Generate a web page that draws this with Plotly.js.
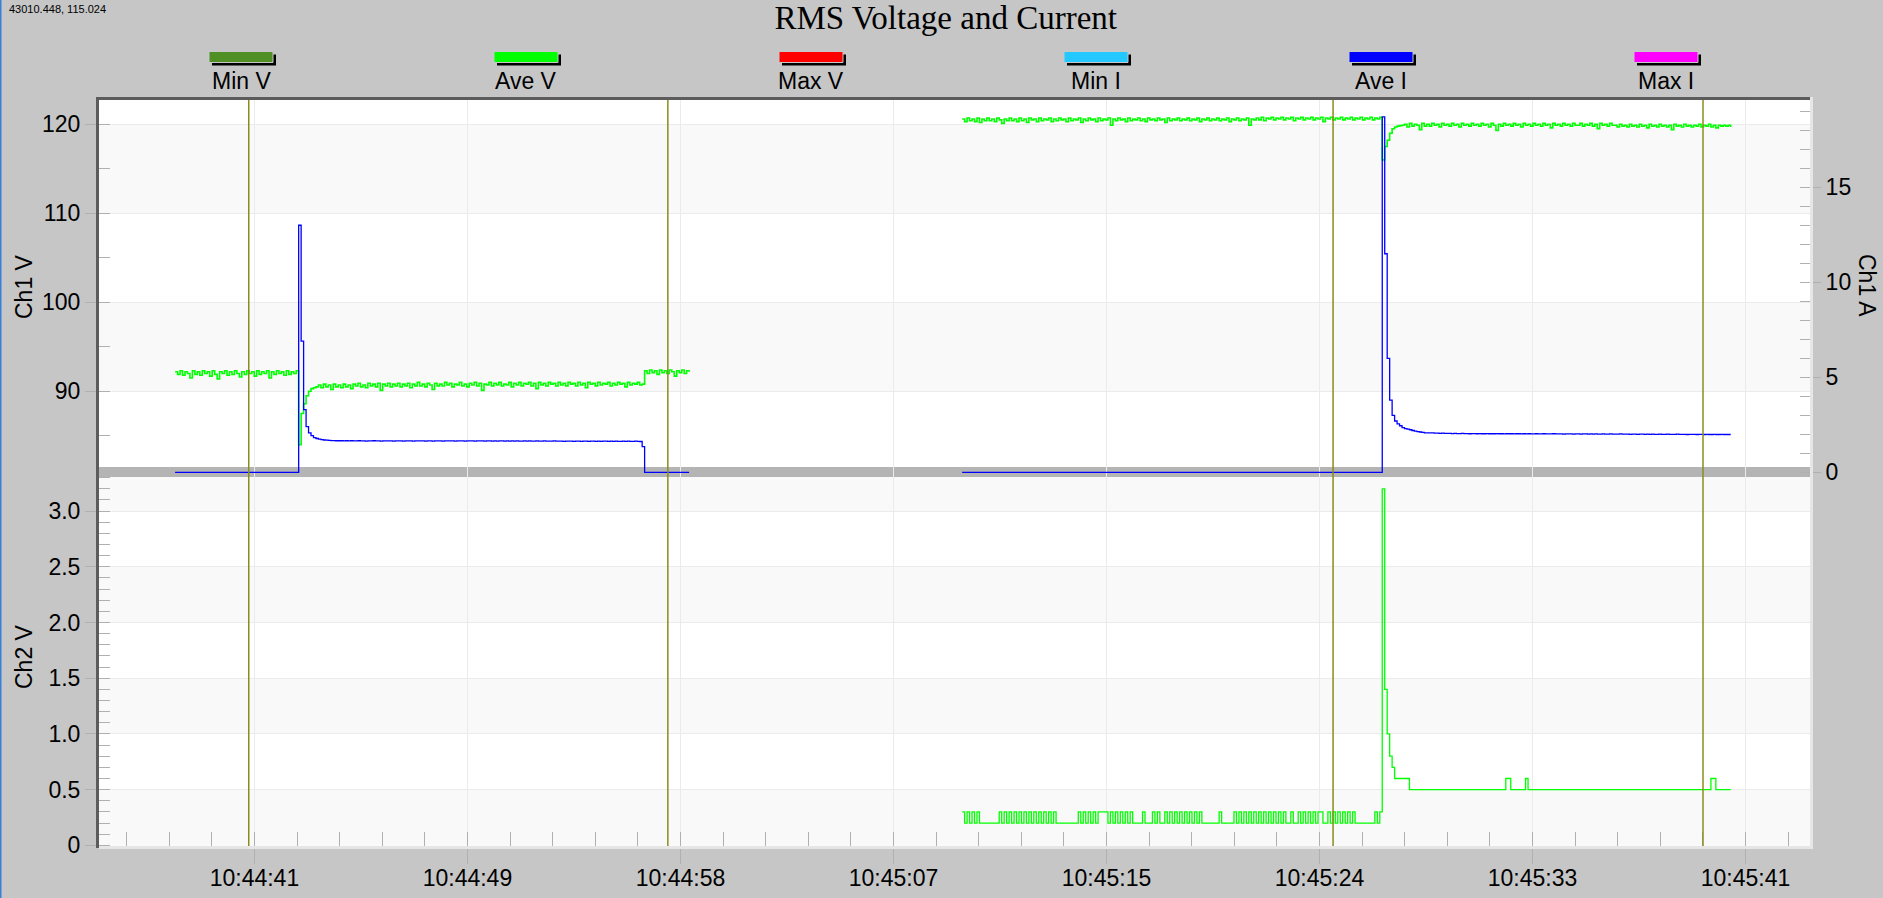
<!DOCTYPE html>
<html>
<head>
<meta charset="utf-8">
<script src="https://cdn.plot.ly/plotly-3.0.1.min.js"></script>
<style>html,body{margin:0;padding:0;background:#c6c6c6;}#chart{width:1883px;height:898px;}</style>
</head>
<body>
<div id="chart"></div>
<script>
// ---------------- DATA ----------------
const chartTitle = 'RMS Voltage and Current';
const cornerText = '43010.448, 115.024';
const legendNames = ['Min V', 'Ave V', 'Max V', 'Min I', 'Ave I', 'Max I'];
const legendColors = ['#4f8f23', '#00ff00', '#ff0000', '#22c8ff', '#0000ff', '#ff00ff'];

// time axis: seconds after 10:44:00
const timeTickStart = 41.33;
const timeTickStep = 8.62;
const timeTickLabels = ['10:44:41', '10:44:49', '10:44:58', '10:45:07', '10:45:15', '10:45:24', '10:45:33', '10:45:41'];
const timeRange = [35.04, 104.28];
const cursorTimes = [41.10, 58.06, 84.98, 99.95];

const ch1VTicks = [90, 100, 110, 120];
const ch1VRange = [80.37, 122.73];
const ch1ATicks = [0, 5, 10, 15];
const ch1ARange = [-0.247, 19.59];
const ch2VTicks = [0, 0.5, 1.0, 1.5, 2.0, 2.5, 3.0];
const ch2VTickLabels = ['0', '0.5', '1.0', '1.5', '2.0', '2.5', '3.0'];
const ch2VRange = [-0.006, 3.306];

const sampleStep = 0.1;      // s between samples
const seg1Start = 38.12;     // first recording
const seg2Start = 69.97;     // second recording

// Segment 1 — Ave V (Ch1 V)
const aveV1 = [
92.2,91.9,92.3,91.8,92.2,92.0,91.5,92.3,91.9,92.2,
91.8,92.3,92.0,92.2,91.7,92.3,91.9,91.4,92.2,92.0,
92.3,91.8,92.2,91.9,92.3,92.0,91.6,92.2,91.9,92.3,
92.0,92.2,91.7,92.3,91.9,92.2,92.0,92.3,91.5,92.2,
91.9,92.3,92.0,92.2,91.8,92.3,91.9,92.2,92.0,92.3,
84.0,87.5,88.6,89.5,90.0,90.3,90.4,90.5,
90.7,90.4,90.8,90.5,90.7,90.2,90.8,90.5,90.7,90.4,
90.8,90.5,90.7,90.3,90.8,90.6,90.9,90.5,90.7,90.4,
90.9,90.6,90.8,90.5,90.9,90.1,90.8,90.6,90.9,90.5,
90.8,90.6,90.9,90.5,90.8,90.6,90.9,90.4,90.8,90.6,
91.0,90.6,90.8,90.5,90.9,90.7,90.2,90.9,90.6,90.8,
90.6,91.0,90.7,90.9,90.5,90.8,90.7,91.0,90.6,90.8,
90.5,90.9,90.7,91.0,90.6,90.9,90.1,90.8,90.7,91.0,
90.6,90.9,90.7,91.0,90.6,90.8,90.7,91.0,90.5,90.9,
90.7,91.0,90.6,90.9,90.8,91.0,90.6,90.9,90.3,91.0,
90.7,90.9,90.6,91.0,90.8,90.9,90.6,91.0,90.7,90.9,
90.6,91.0,90.8,90.9,90.6,91.0,90.7,90.9,90.4,91.0,
90.8,90.9,90.6,91.0,90.7,90.9,90.8,91.0,90.6,90.9,
90.7,91.0,90.8,90.9,90.5,91.0,90.7,90.9,90.8,91.0,90.7,
90.8,
92.3,92.0,92.4,92.1,92.3,91.9,92.4,92.1,92.3,92.0,
92.4,92.2,91.7,92.3,92.1,92.4,92.0,92.3,92.2
];

// Segment 1 — Ave I (Ch1 A)
const aveI1 = [
0,0,0,0,0,0,0,0,0,0, 0,0,0,0,0,0,0,0,0,0, 0,0,0,0,0,0,0,0,0,0,
0,0,0,0,0,0,0,0,0,0, 0,0,0,0,0,0,0,0,0,0,
13.0,6.9,3.3,2.4,2.08,1.93,1.83,1.78,1.75,1.72,1.70,1.69,1.68,1.67,1.67,1.66,
1.66,1.66,1.65,1.66,1.65,1.66,1.65,1.65,1.66,1.65,
1.65,1.64,1.65,1.65,1.66,1.65,1.65,1.64,1.65,1.65,
1.65,1.65,1.64,1.65,1.65,1.65,1.64,1.65,1.65,1.65,
1.64,1.65,1.65,1.65,1.65,1.64,1.65,1.65,1.64,1.65,
1.65,1.65,1.64,1.65,1.65,1.65,1.65,1.64,1.65,1.65,
1.65,1.64,1.65,1.65,1.65,1.64,1.65,1.65,1.65,1.64,
1.65,1.65,1.64,1.65,1.64,1.65,1.65,1.64,1.65,1.64,
1.65,1.64,1.65,1.64,1.64,1.65,1.64,1.65,1.64,1.64,
1.65,1.64,1.64,1.65,1.64,1.64,1.64,1.65,1.64,1.64,
1.64,1.63,1.64,1.64,1.64,1.63,1.64,1.64,1.63,1.64,
1.64,1.63,1.64,1.64,1.63,1.64,1.63,1.64,1.64,1.63,
1.64,1.63,1.64,1.63,1.63,1.64,1.63,1.64,1.63,1.63,
1.64,1.63,1.62,
1.35,
0,0,0,0,0,0,0,0,0,0, 0,0,0,0,0,0,0,0,0
];

// Segment 2 — Ave V (Ch1 V)
const aveV2 = [
120.6,120.3,120.7,120.4,120.6,120.3,120.7,120.2,120.6,120.4,
120.7,120.4,120.6,120.3,120.7,120.5,120.1,120.6,120.4,120.7,
120.4,120.6,120.3,120.7,120.4,120.6,120.2,120.7,120.5,120.6,
120.3,120.7,120.4,120.6,120.5,120.7,120.3,120.6,120.4,120.7,
120.5,120.6,120.3,120.7,120.4,120.6,120.5,120.7,120.2,120.6,
120.4,120.7,120.5,120.6,120.3,120.7,120.4,120.6,120.5,120.7,
119.9,120.6,120.4,120.7,120.5,120.6,120.3,120.7,120.4,120.6,
120.5,120.7,120.4,120.6,120.3,120.7,120.5,120.6,120.4,120.7,
120.5,120.6,120.2,120.7,120.4,120.6,120.5,120.7,120.4,120.6,
120.5,120.7,120.4,120.6,120.5,120.7,120.3,120.6,120.5,120.7,
120.4,120.6,120.5,120.7,120.4,120.6,120.5,120.7,120.3,120.6,
120.5,120.7,120.4,120.6,120.5,120.7,119.9,120.6,120.5,120.7,
120.5,120.8,120.4,120.7,120.6,120.8,120.5,120.7,120.6,120.8,
120.5,120.7,120.6,120.8,120.4,120.7,120.6,120.8,120.5,120.7,
120.6,120.8,120.5,120.7,120.6,120.8,120.3,120.7,120.6,120.8,
120.5,120.7,120.6,120.8,120.5,120.7,120.6,120.8,120.5,120.7,
120.6,120.8,120.5,120.7,120.6,120.8,120.5,120.7,120.6,120.8,
116.0,117.5,118.2,119.0,119.5,119.7,119.8,119.85,119.9,
120.0,119.7,120.1,119.8,120.0,119.9,119.4,120.1,119.8,120.0,
119.8,120.1,119.9,120.0,119.7,120.1,119.9,120.0,119.8,120.1,
119.9,120.0,119.7,120.1,119.9,120.0,119.8,120.1,119.9,120.0,
119.8,120.1,119.9,120.0,119.7,120.1,119.9,119.3,120.0,119.8,
120.1,119.9,120.0,119.8,120.1,119.9,120.0,119.7,120.1,119.9,
120.0,119.8,120.1,119.9,120.0,119.8,120.1,119.9,120.0,119.6,
120.1,119.9,120.0,119.8,120.1,119.9,120.0,119.8,120.1,119.9,
119.9,120.1,119.8,120.0,119.9,120.1,119.8,120.0,119.5,120.1,
119.9,120.0,119.8,120.1,119.9,119.9,119.7,120.0,119.8,119.9,
119.7,120.0,119.8,119.9,119.7,120.0,119.8,119.9,119.6,120.0,
119.8,119.9,119.7,120.0,119.8,119.9,119.7,119.9,119.4,120.0,
119.8,119.9,119.7,120.0,119.8,119.9,119.7,119.9,119.8,120.0,
119.7,119.9,119.8,120.0,119.7,119.9,119.6,119.9,119.8,119.9,
119.8,119.9,119.7
];

// Segment 2 — Ave I (Ch1 A)
const aveI2 = [
0,0,0,0,0,0,0,0,0,0, 0,0,0,0,0,0,0,0,0,0, 0,0,0,0,0,0,0,0,0,0, 0,0,0,0,0,0,0,0,0,0,
0,0,0,0,0,0,0,0,0,0, 0,0,0,0,0,0,0,0,0,0, 0,0,0,0,0,0,0,0,0,0, 0,0,0,0,0,0,0,0,0,0,
0,0,0,0,0,0,0,0,0,0, 0,0,0,0,0,0,0,0,0,0, 0,0,0,0,0,0,0,0,0,0, 0,0,0,0,0,0,0,0,0,0,
0,0,0,0,0,0,0,0,0,0, 0,0,0,0,0,0,0,0,0,0, 0,0,0,0,0,0,0,0,0,0, 0,0,0,0,0,0,0,0,0,0,
0,0,0,0,0,0,0,0,0,0,
18.7,11.5,6.0,3.8,3.0,2.7,2.55,2.45,2.35,2.3,2.27,2.24,2.2,2.17,2.14,2.12,2.1,
2.08,2.08,2.07,2.07,2.06,2.06,2.05,2.06,2.05,2.05,
2.05,2.04,2.05,2.04,2.04,2.05,2.04,2.04,2.03,2.04,
2.04,2.03,2.04,2.03,2.03,2.04,2.03,2.03,2.03,2.04,
2.03,2.03,2.02,2.03,2.03,2.03,2.02,2.03,2.03,2.02,
2.03,2.02,2.03,2.02,2.02,2.03,2.02,2.02,2.03,2.02,
2.02,2.02,2.03,2.02,2.02,2.02,2.01,2.02,2.02,2.02,
2.01,2.02,2.02,2.01,2.02,2.02,2.01,2.02,2.01,2.02,
2.01,2.01,2.02,2.01,2.01,2.02,2.01,2.01,2.01,2.02,
2.01,2.01,2.01,2.00,2.01,2.01,2.00,2.01,2.01,2.00,
2.01,2.00,2.01,2.00,2.00,2.01,2.00,2.00,2.01,2.00,
2.00,2.00,2.01,2.00,2.00,2.00,1.99,2.00,2.00,2.00,
1.99,2.00,2.00,1.99,2.00,1.99,1.99,2.00,1.99,1.99,
2.00,1.99,1.99,1.99,1.99
];

// Segment 2 — Ch2 V
const ch2V2 = [
0.3,0.2,0.3,0.2,0.3,0.2,0.3,0.2,
0.2,0.2,0.2,0.2,0.2,0.2,0.2,
0.3,0.2,0.3,0.2,0.3,0.2,0.3,0.2,0.3,0.2,0.3,0.2,0.3,0.2,0.3,0.2,0.3,0.2,0.3,0.2,0.3,0.2,0.3,
0.2,0.2,0.2,0.2,0.2,0.2,0.2,0.2,0.2,
0.3,0.2,0.3,0.2,0.3,0.2,0.3,0.2,0.3,
0.3,0.3,0.3,
0.2,
0.3,0.2,0.3,0.2,0.3,0.2,0.3,0.2,0.3,
0.2,0.2,0.2,0.2,
0.3,
0.2,0.2,0.2,
0.3,0.2,0.3,
0.2,0.2,
0.3,0.2,0.3,0.2,0.3,0.2,0.3,0.2,0.3,0.2,0.3,0.2,0.3,0.2,0.3,
0.2,0.2,0.2,0.2,0.2,0.2,0.2,
0.3,0.2,
0.2,0.2,0.2,0.2,
0.3,0.2,0.3,0.2,0.3,0.2,0.3,0.2,0.3,0.2,0.3,0.2,0.3,0.2,0.3,0.2,0.3,0.2,0.3,0.2,0.3,
0.2,0.2,
0.3,
0.2,0.2,
0.3,0.2,0.3,0.2,0.3,0.2,0.3,0.2,
0.3,0.3,
0.2,0.2,
0.3,0.2,0.3,0.2,0.3,0.2,0.3,0.2,0.3,0.2,0.3,0.2,
0.2,0.2,0.2,0.2,0.2,0.2,0.2,
0.3,0.2,0.3,
3.2,1.4,1.0,0.8,0.7,0.6,0.6,0.6,0.6,0.6,0.6,0.5,
0.5,0.5,0.5,0.5,0.5,0.5,0.5,0.5,0.5,0.5,0.5,0.5,0.5,0.5,0.5,0.5,0.5,0.5,0.5,
0.5,0.5,0.5,0.5,0.5,0.5,0.5,0.5,0.5,0.5,0.5,0.5,0.5,0.5,0.5,0.5,0.5,0.5,0.5,
0.6,0.6,
0.5,0.5,0.5,0.5,0.5,0.5,
0.6,
0.5,0.5,0.5,0.5,0.5,0.5,0.5,0.5,0.5,0.5,0.5,0.5,0.5,0.5,0.5,0.5,0.5,0.5,0.5,0.5,0.5,0.5,0.5,0.5,0.5,
0.5,0.5,0.5,0.5,0.5,0.5,0.5,0.5,0.5,0.5,0.5,0.5,0.5,0.5,0.5,0.5,0.5,0.5,0.5,0.5,0.5,0.5,0.5,0.5,0.5,
0.5,0.5,0.5,0.5,0.5,0.5,0.5,0.5,0.5,0.5,0.5,0.5,0.5,0.5,0.5,0.5,0.5,0.5,0.5,0.5,0.5,0.5,0.5,0.5,
0.6,0.6,
0.5,0.5,0.5,0.5,0.5,0.5,0.5
];

// ---------------- LAYOUT HELPERS ----------------
const W = 1883, H = 898;
const M = {l: 99, r: 73, t: 100, b: 52};
const PW = W - M.l - M.r, PH = H - M.t - M.b;
const px = v => (v - M.l) / PW;           // pixel x -> paper x
const py = v => (H - M.b - v) / PH;       // pixel y -> paper y
const splitY = py(477);                   // boundary between panels

const FONT = 'Liberation Sans, Arial, sans-serif';
const TICKC = '#b0b0b0';
const GRIDC = '#ebebeb';
const SHADE = '#f9f9f9';

const times = (start, vals) => vals.map((_, i) => +(start + i * sampleStep).toFixed(3));

const lineTrace = (x, y, yaxis, color, name, width) => ({
  x, y, xaxis: 'x', yaxis, type: 'scatter', mode: 'lines', name,
  line: {color, width, shape: 'hv'}, hoverinfo: 'skip', showlegend: false
});

const data = [
  lineTrace(times(seg1Start, aveV1), aveV1, 'y', legendColors[1], 'Ave V', 1.6),
  lineTrace(times(seg2Start, aveV2), aveV2, 'y', legendColors[1], 'Ave V', 1.6),
  lineTrace(times(seg2Start, ch2V2), ch2V2, 'y3', legendColors[1], 'Ch2 V', 1.3),
  lineTrace(times(seg1Start, aveI1), aveI1, 'y2', legendColors[4], 'Ave I', 1.3),
  lineTrace(times(seg2Start, aveI2), aveI2, 'y2', legendColors[4], 'Ave I', 1.3)
];

const timeTickVals = timeTickLabels.map((_, k) => +(timeTickStart + k * timeTickStep).toFixed(3));

const shapes = [];
// alternating band shading, top panel
for (let i = 0; i < ch1VTicks.length - 1; i++) {
  if ((ch1VTicks.length - 2 - i) % 2 === 0) {
    shapes.push({type: 'rect', xref: 'x domain', yref: 'y', x0: 0, x1: 1,
      y0: ch1VTicks[i], y1: ch1VTicks[i + 1], fillcolor: SHADE, line: {width: 0}, layer: 'below'});
  }
}
// bottom panel
for (let i = 0; i < ch2VTicks.length - 1; i++) {
  if (i % 2 === 0) {
    shapes.push({type: 'rect', xref: 'x domain', yref: 'y3', x0: 0, x1: 1,
      y0: ch2VTicks[i], y1: ch2VTicks[i + 1], fillcolor: SHADE, line: {width: 0}, layer: 'below'});
  }
}
shapes.push({type: 'rect', xref: 'x domain', yref: 'y3', x0: 0, x1: 1,
  y0: ch2VTicks[ch2VTicks.length - 1], y1: ch2VRange[1], fillcolor: SHADE, line: {width: 0}, layer: 'below'});
shapes.push({type: 'rect', xref: 'x domain', yref: 'y3', x0: 0, x1: 1,
  y0: ch2VRange[0], y1: 0, fillcolor: SHADE, line: {width: 0}, layer: 'below'});
// grey splitter band at the bottom of the top panel
shapes.push({type: 'rect', xref: 'x domain', yref: 'y domain', x0: 0, x1: 1,
  y0: 0, y1: 10 / 377, fillcolor: '#b4b4b4', line: {width: 0}, layer: 'below'});

// cursors
cursorTimes.forEach(t => shapes.push({type: 'line', xref: 'x', yref: 'paper', x0: t, x1: t, y0: 0, y1: 1,
  line: {color: '#8b8b1c', width: 1.5}, layer: 'above'}));

// frame (dark left/top, light right/bottom)
shapes.push({type: 'rect', xref: 'paper', yref: 'paper', x0: px(96), x1: 0, y0: py(848), y1: py(97),
  fillcolor: '#5c5c5c', line: {width: 0}, layer: 'above'});
shapes.push({type: 'rect', xref: 'paper', yref: 'paper', x0: px(96), x1: 1, y0: 1, y1: py(97),
  fillcolor: '#5c5c5c', line: {width: 0}, layer: 'above'});
shapes.push({type: 'rect', xref: 'paper', yref: 'paper', x0: 1, x1: px(1813), y0: py(849), y1: py(97),
  fillcolor: '#e6e6e6', line: {width: 0}, layer: 'above'});
shapes.push({type: 'rect', xref: 'paper', yref: 'paper', x0: 0, x1: px(1813), y0: py(849), y1: 0,
  fillcolor: '#e6e6e6', line: {width: 0}, layer: 'above'});
// window edge
shapes.push({type: 'rect', xref: 'paper', yref: 'paper', x0: px(0), x1: px(1.5), y0: py(H), y1: py(0),
  fillcolor: '#3a7fd8', line: {width: 0}, layer: 'above'});

const annotations = [];
// legend swatches + labels
legendNames.forEach((name, k) => {
  const c = 241 + k * 285;
  shapes.push({type: 'rect', xref: 'paper', yref: 'paper', x0: px(c - 29), x1: px(c + 35),
    y0: py(65.5), y1: py(54.5), fillcolor: '#000000', line: {width: 0}, layer: 'above'});
  shapes.push({type: 'rect', xref: 'paper', yref: 'paper', x0: px(c - 32), x1: px(c + 32),
    y0: py(62.5), y1: py(51.5), fillcolor: legendColors[k], line: {color: '#c8c8c8', width: 1}, layer: 'above'});
  annotations.push({xref: 'paper', yref: 'paper', x: px(c), y: py(81), xanchor: 'center', yanchor: 'middle',
    text: name, showarrow: false, font: {family: FONT, size: 23, color: '#000'}});
});
annotations.push({xref: 'paper', yref: 'paper', x: px(7), y: py(9), xanchor: 'left', yanchor: 'middle',
  text: cornerText, showarrow: false, font: {family: FONT, size: 11, color: '#000'}});
annotations.push({xref: 'paper', yref: 'paper', x: px(24), y: py(287), xanchor: 'center', yanchor: 'middle',
  text: 'Ch1 V', textangle: -90, showarrow: false, font: {family: FONT, size: 23, color: '#000'}});
annotations.push({xref: 'paper', yref: 'paper', x: px(24), y: py(657), xanchor: 'center', yanchor: 'middle',
  text: 'Ch2 V', textangle: -90, showarrow: false, font: {family: FONT, size: 23, color: '#000'}});
annotations.push({xref: 'paper', yref: 'paper', x: px(1867), y: py(285), xanchor: 'center', yanchor: 'middle',
  text: 'Ch1 A', textangle: 90, showarrow: false, font: {family: FONT, size: 23, color: '#000'}});

const tickFont = {family: FONT, size: 23, color: '#000'};

const layout = {
  width: W, height: H,
  margin: M,
  paper_bgcolor: '#c6c6c6',
  plot_bgcolor: '#ffffff',
  showlegend: false,
  title: {text: chartTitle, x: 945.7 / W, xanchor: 'center', xref: 'container',
    y: 1 - 17 / H, yanchor: 'middle', yref: 'container',
    font: {family: 'Liberation Serif, Times New Roman, serif', size: 33, color: '#000'}},
  xaxis: {
    domain: [0, 1], anchor: 'y3', range: timeRange,
    tickmode: 'array', tickvals: timeTickVals, ticktext: timeTickLabels,
    ticks: 'outside', ticklen: 17, tickcolor: TICKC, tickwidth: 1, tickfont: tickFont,
    ticklabelstandoff: -6,
    showgrid: true, gridcolor: GRIDC, gridwidth: 1, zeroline: false, showline: false,
    minor: {tickmode: 'linear', tick0: timeTickStart, dtick: timeTickStep / 5,
      ticks: 'inside', ticklen: 14, tickcolor: TICKC, tickwidth: 1, showgrid: false}
  },
  yaxis: {
    domain: [splitY, 1], anchor: 'x', range: ch1VRange,
    tickmode: 'array', tickvals: ch1VTicks,
    ticks: 'outside', ticklen: 13, tickcolor: TICKC, tickfont: tickFont,
    showgrid: true, gridcolor: GRIDC, zeroline: false, showline: false,
    minor: {tickmode: 'linear', tick0: 80, dtick: 5, ticks: 'inside', ticklen: 11, tickcolor: TICKC, showgrid: false}
  },
  yaxis2: {
    overlaying: 'y', side: 'right', anchor: 'x', range: ch1ARange,
    tickmode: 'array', tickvals: ch1ATicks,
    ticks: 'outside', ticklen: 10, tickcolor: TICKC, tickfont: tickFont,
    showgrid: false, zeroline: false, showline: false,
    minor: {tickmode: 'linear', tick0: 0, dtick: 1, ticks: 'inside', ticklen: 10, tickcolor: TICKC, showgrid: false}
  },
  yaxis3: {
    domain: [0, splitY], anchor: 'x', range: ch2VRange,
    tickmode: 'array', tickvals: ch2VTicks, ticktext: ch2VTickLabels,
    ticks: 'outside', ticklen: 13, tickcolor: TICKC, tickfont: tickFont,
    showgrid: true, gridcolor: GRIDC, zeroline: false, showline: false,
    minor: {tickmode: 'linear', tick0: 0, dtick: 0.1, ticks: 'inside', ticklen: 11, tickcolor: TICKC, showgrid: false}
  },
  shapes, annotations
};

Plotly.newPlot('chart', data, layout, {displayModeBar: false, staticPlot: true});
</script>
</body>
</html>
